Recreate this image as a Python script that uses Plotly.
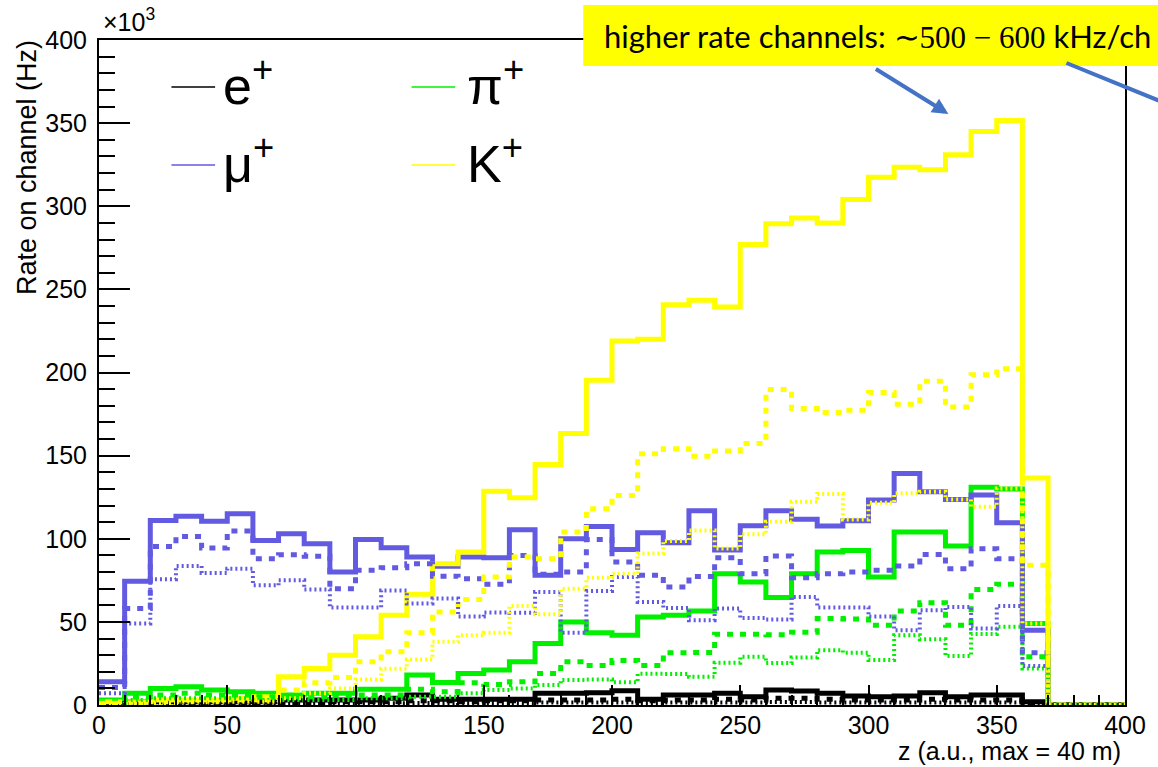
import plotly.graph_objects as go

# ---------------------------------------------------------------------------
# Histogram binning along z (a.u.): 40 bins of width 10 from 0 to 400
# ---------------------------------------------------------------------------
z_edges = list(range(0, 401, 10))

# Rate on channel per bin, in units of 10^3 Hz
e_solid = [1, 2, 2, 2, 2, 2, 2, 3, 3, 3,
           3, 4, 6, 3.5, 3.5, 3.5, 3.5, 7, 7, 7.4,
           8.6, 3.4, 6, 6, 7, 5, 9, 8.4, 7, 5.4,
           5, 5.4, 7.4, 5, 6, 6, 2, 0, 0, 0]
e_dashed = [0.5, 1, 1, 1, 1, 1, 1.5, 1.5, 1.5, 2,
            2, 2, 2.5, 2.5, 2, 2.5, 2.5, 3, 3, 3,
            3.5, 2.5, 3, 3, 3.5, 3, 4, 4, 3.5, 3,
            3, 3, 3.5, 3, 3, 3, 1, 0, 0, 0]
e_dotted = [0.3, 0.5, 0.5, 0.5, 0.5, 0.5, 0.5, 0.8, 0.8, 1,
            1, 1, 1.2, 1.2, 1, 1.2, 1.2, 1.5, 1.5, 1.5,
            1.5, 1.2, 1.5, 1.5, 1.5, 1.5, 1.8, 1.8, 1.5, 1.5,
            1.5, 1.5, 1.5, 1.5, 1.5, 1.5, 0.5, 0, 0, 0]

pi_solid = [3, 7, 10, 11, 9, 8, 7, 6, 7, 7,
            9.5, 9.5, 18, 13.6, 19, 21, 26, 37, 50, 43.5,
            42, 53, 54, 56.5, 79, 74, 64.7, 79, 92, 93,
            77, 104, 104, 95.6, 131, 130, 49, 0, 0, 0]
pi_dashed = [2, 5, 6, 7, 6, 6, 5, 5, 5, 6,
             6, 6, 9.4, 8, 13.4, 12.4, 14, 19, 26, 23.7,
             26.8, 23.7, 31.4, 31.6, 42.5, 42.5, 42.3, 43.7, 52, 51.7,
             48, 56.5, 61.5, 48, 69.5, 72.7, 29, 0, 0, 0]
pi_dotted = [1, 3, 4, 4, 4, 4, 3, 3, 3, 3,
             4, 4, 5, 5, 7, 9, 10, 12, 15, 15.4,
             13.7, 18.8, 18.6, 17, 25.4, 29, 25.2, 28.6, 33, 31.5,
             27, 42, 39.5, 29.5, 42.7, 47, 22, 0, 0, 0]

mu_solid = [14, 74.4, 111, 113.6, 110.6, 115, 99, 103, 97, 80,
            99.5, 94.6, 89, 83.5, 89, 88.6, 105.4, 78, 100, 107.4,
            93.6, 103.6, 97.6, 116.8, 93.2, 107.8, 116.8, 111.8, 107.6, 110.8,
            123.3, 139.3, 128.3, 123.6, 126.3, 109.6, 45, 0, 0, 0]
mu_dashed = [10.6, 58, 95.4, 101.4, 94.4, 104.6, 88, 90.4, 89.4, 70,
             81, 82.5, 85, 77.5, 76, 72.6, 90, 78.6, 80, 99.5,
             86, 78, 71, 77.3, 88.5, 79, 89.6, 76.5, 79, 80,
             81, 83.6, 90.6, 82, 94, 88, 31.5, 0, 0, 0]
mu_dotted = [7, 49, 75.6, 83.6, 79.4, 82, 72, 75, 69.4, 58.6,
             58.6, 68.8, 61, 64, 53.2, 55.7, 55.5, 68, 43.5, 68.5,
             77, 62, 58.4, 51, 58, 52.3, 51.5, 65, 58.7, 58.7,
             53.3, 45, 57, 59, 46, 59.5, 23.4, 0, 0, 0]

k_solid = [2, 2, 3, 3, 3, 4, 5, 17, 22, 30,
           41, 54, 66.6, 85, 92, 128.6, 124.6, 144.6, 163.3, 195.3,
           219, 220, 240.8, 243.4, 239.4, 277, 289.5, 293, 290, 304,
           317.5, 323.5, 322, 331, 345, 351.6, 136.6, 0, 0, 0]
k_dashed = [1, 1, 2, 2, 2, 3, 3, 9, 13.4, 16.6,
            26, 32, 43.4, 56, 63.4, 77, 89, 88, 104, 118,
            126, 151.2, 154.2, 149.6, 152.8, 157.3, 189.7, 178.3, 175.9, 177.3,
            188, 180.9, 194.7, 179.3, 198.7, 202.3, 84, 0, 0, 0]
k_dotted = [1, 1, 1, 2, 2, 2, 2, 4, 7, 10,
            15.4, 21.8, 27.4, 38, 42, 43.4, 59.6, 54.6, 70, 76.5,
            79, 91.2, 98.7, 105, 94.2, 102.7, 110.2, 122.2, 126.9, 111.6,
            121.7, 127.3, 128.3, 123.6, 119.2, 130.3, 49, 0, 0, 0]

# Axis ticks
x_ticks = [0, 50, 100, 150, 200, 250, 300, 350, 400]
y_ticks = [0, 50, 100, 150, 200, 250, 300, 350, 400]

# Legend entries (label, colour key), laid out in two columns
legend_labels = ["e<sup>+</sup>", "π<sup>+</sup>", "μ<sup>+</sup>", "K<sup>+</sup>"]
legend_keys = ["e", "pi", "mu", "k"]

note_text = ("higher rate channels: "
             "<span style=\"font-family:'Liberation Serif'\">∼500 − 600</span>"
             " kHz/ch")

# ---------------------------------------------------------------------------
# Styling
# ---------------------------------------------------------------------------
COLORS = {"e": "#000000", "pi": "#00F000", "mu": "rgb(98,90,225)", "k": "#FFFF00"}
STYLES = {"solid": ("solid", 5), "dashed": ("6px,7px", 5), "dotted": ("2px,3px", 4)}
ARROW_BLUE = "#4472C4"

W, H = 1158, 767
L, R, T, B = 99, 25, 40, 62
PW, PH = W - L - R, H - T - B


def px_x(px):
    return (px - L) / PW


def px_y(py):
    return (H - B - py) / PH


def step(values):
    return values + [values[-1]]


histos = {
    "solid": [("e", e_solid), ("pi", pi_solid), ("mu", mu_solid), ("k", k_solid)],
    "dashed": [("e", e_dashed), ("pi", pi_dashed), ("mu", mu_dashed), ("k", k_dashed)],
    "dotted": [("e", e_dotted), ("pi", pi_dotted), ("mu", mu_dotted), ("k", k_dotted)],
}

fig = go.Figure()
for style in ["solid", "dashed", "dotted"]:
    dash, width = STYLES[style]
    for key, vals in histos[style]:
        fig.add_trace(go.Scatter(
            x=z_edges, y=step(vals), mode="lines",
            line=dict(color=COLORS[key], width=width, dash=dash, shape="hv"),
            showlegend=False, hoverinfo="skip",
        ))

axis_common = dict(
    range=[0, 400], ticks="inside", tickwidth=2, tickcolor="black",
    showline=True, linecolor="black", linewidth=2, mirror=True,
    showgrid=False, zeroline=False,
    tickfont=dict(size=25, family="Liberation Sans", color="black"),
)

fig.update_layout(
    width=W, height=H,
    margin=dict(l=L, r=R, t=T, b=B, pad=0),
    paper_bgcolor="white", plot_bgcolor="white",
    showlegend=False,
    font=dict(family="Liberation Sans", color="black"),
    xaxis=dict(**axis_common, tickvals=x_ticks, ticktext=[str(v) for v in x_ticks],
               ticklen=20, ticklabelstandoff=-3,
               minor=dict(dtick=10, ticks="inside", ticklen=10, tickwidth=2,
                          tickcolor="black", showgrid=False)),
    yaxis=dict(**axis_common, tickvals=y_ticks, ticktext=[str(v) for v in y_ticks],
               ticklen=31, ticklabelstandoff=5,
               minor=dict(dtick=10, ticks="inside", ticklen=16, tickwidth=2,
                          tickcolor="black", showgrid=False)),
)

annotations = []
shapes = []

# exponent of the y axis
annotations.append(dict(text="×10<sup>3</sup>", xref="paper", yref="paper",
                        x=px_x(101), y=px_y(38), xanchor="left", yanchor="bottom",
                        showarrow=False, font=dict(size=25)))
# axis titles
annotations.append(dict(text="Rate on channel (Hz)", xref="paper", yref="paper",
                        x=px_x(26), y=px_y(38), xanchor="center", yanchor="top",
                        textangle=-90, showarrow=False, font=dict(size=27)))
annotations.append(dict(text="z (a.u., max = 40 m)", xref="paper", yref="paper",
                        x=px_x(1131), y=px_y(751), xanchor="right", yanchor="middle",
                        showarrow=False, font=dict(size=25)))

# legend
for i, (label, key) in enumerate(zip(legend_labels, legend_keys)):
    col, row = i % 2, i // 2
    lx0 = 172 + col * 242
    ly = 87 + row * 78
    shapes.append(dict(type="line", xref="paper", yref="paper",
                       x0=px_x(lx0), x1=px_x(lx0 + 44), y0=px_y(ly), y1=px_y(ly),
                       line=dict(color=COLORS[key], width=1.5)))
    annotations.append(dict(text=label, xref="paper", yref="paper",
                            x=px_x(lx0 + 50 + col * 4), y=px_y(ly - 5), xanchor="left",
                            yanchor="middle", showarrow=False,
                            font=dict(size=52, family="Liberation Sans")))

# highlighted note with two pointers
shapes.append(dict(type="rect", xref="paper", yref="paper", layer="above",
                   x0=px_x(587), x1=px_x(1200), y0=px_y(66), y1=px_y(5),
                   fillcolor="#FFFF00", line=dict(width=0)))
shapes.append(dict(type="line", xref="paper", yref="paper", layer="above",
                   x0=px_x(1074), y0=px_y(63), x1=px_x(1220), y1=px_y(122),
                   line=dict(color=ARROW_BLUE, width=4)))
annotations.append(dict(text=note_text, xref="paper", yref="paper",
                        x=px_x(606), y=px_y(36), xanchor="left", yanchor="middle",
                        showarrow=False, font=dict(size=31, family="Lato", color="black")))
annotations.append(dict(text="", xref="paper", yref="paper",
                        x=px_x(955), y=px_y(114), ax=-74, ay=-46,
                        showarrow=True, arrowhead=2, arrowsize=0.8, arrowwidth=4,
                        arrowcolor=ARROW_BLUE, standoff=0))

fig.update_layout(annotations=annotations, shapes=shapes)
fig.write_html("out.html")
